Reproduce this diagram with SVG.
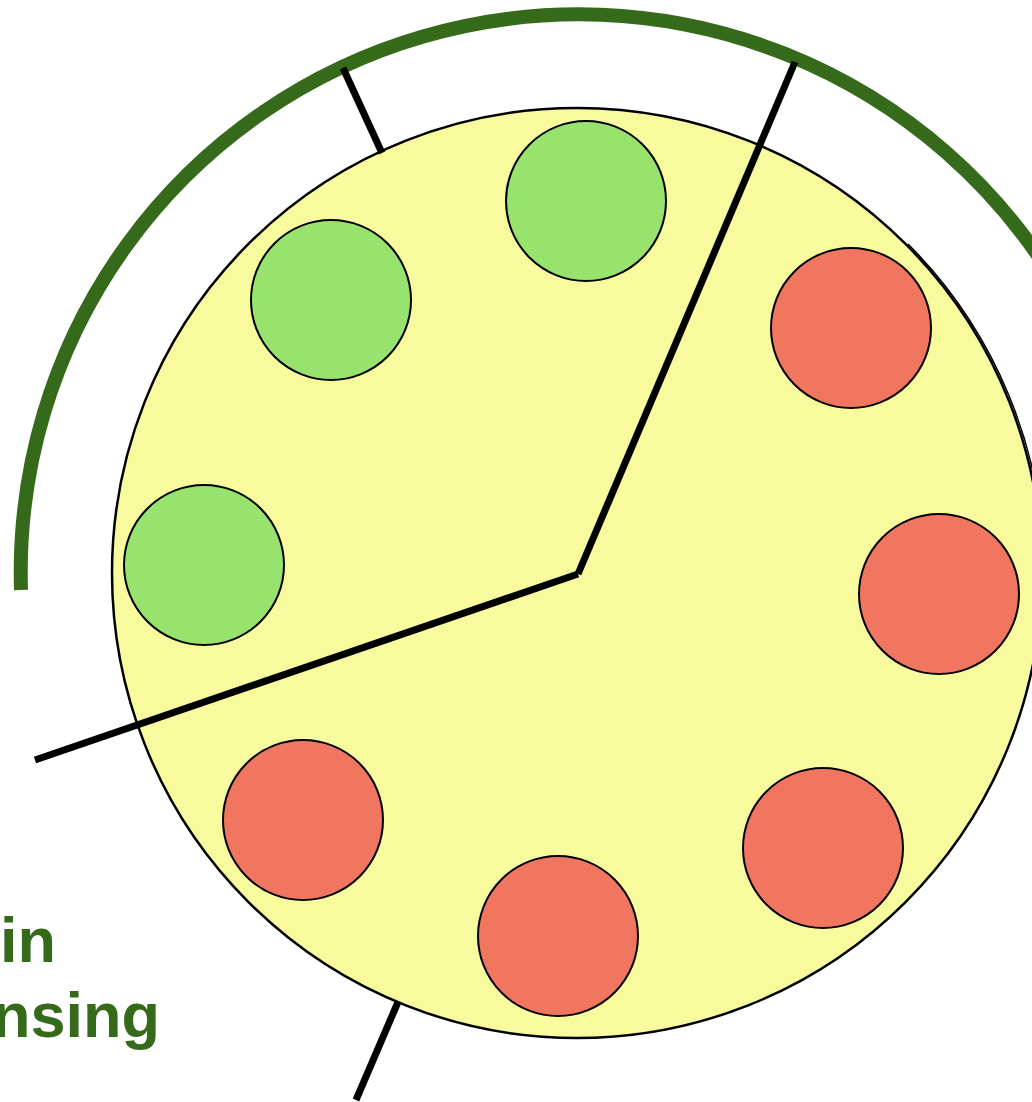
<svg xmlns="http://www.w3.org/2000/svg" width="1032" height="1102" viewBox="0 0 1032 1102">
<style>
.g{fill:#98E26E;stroke:#000;stroke-width:2}
.r{fill:#F07660;stroke:#000;stroke-width:2}
.ln{stroke:#000;stroke-width:7;fill:none}
.lbl{font-family:"Liberation Sans",Arial,sans-serif;font-weight:bold;font-size:63px;fill:#356A1A}
</style>
<rect width="1032" height="1102" fill="#fff"/>
<g id="arc">
<path d="M 21 590 A 558 558 0 0 1 1060 290" fill="none" stroke="#356A1A" stroke-width="14"/>
</g>
<g id="disk">
<circle cx="577" cy="573" r="465" fill="#F8FA9E" stroke="#000" stroke-width="2.5"/>
<path d="M 906 244 A 465 465 0 0 1 1042 573" fill="none" stroke="#000" stroke-width="1.5" transform="translate(2,0)"/>
</g>
<g id="green1"><circle class="g" cx="586" cy="201" r="80"/></g>
<g id="green2"><circle class="g" cx="331" cy="300" r="80"/></g>
<g id="green3"><circle class="g" cx="204" cy="565" r="80"/></g>
<g id="red1"><circle class="r" cx="851" cy="328" r="80"/></g>
<g id="red2"><circle class="r" cx="939" cy="594" r="80"/></g>
<g id="red3"><circle class="r" cx="823" cy="848" r="80"/></g>
<g id="red4"><circle class="r" cx="558" cy="936" r="80"/></g>
<g id="red5"><circle class="r" cx="303" cy="820" r="80"/></g>
<g id="connectors">
<line class="ln" x1="578" y1="574" x2="795" y2="62"/>
<line class="ln" x1="578" y1="574" x2="35" y2="760"/>
<line class="ln" x1="343" y1="68" x2="382" y2="153"/>
<line class="ln" x1="398" y1="1002" x2="356" y2="1100"/>
</g>
<g id="label">
<text class="lbl" x="56" y="962" text-anchor="end">in</text>
<text class="lbl" x="160" y="1037" text-anchor="end">nsing</text>
</g>
</svg>
